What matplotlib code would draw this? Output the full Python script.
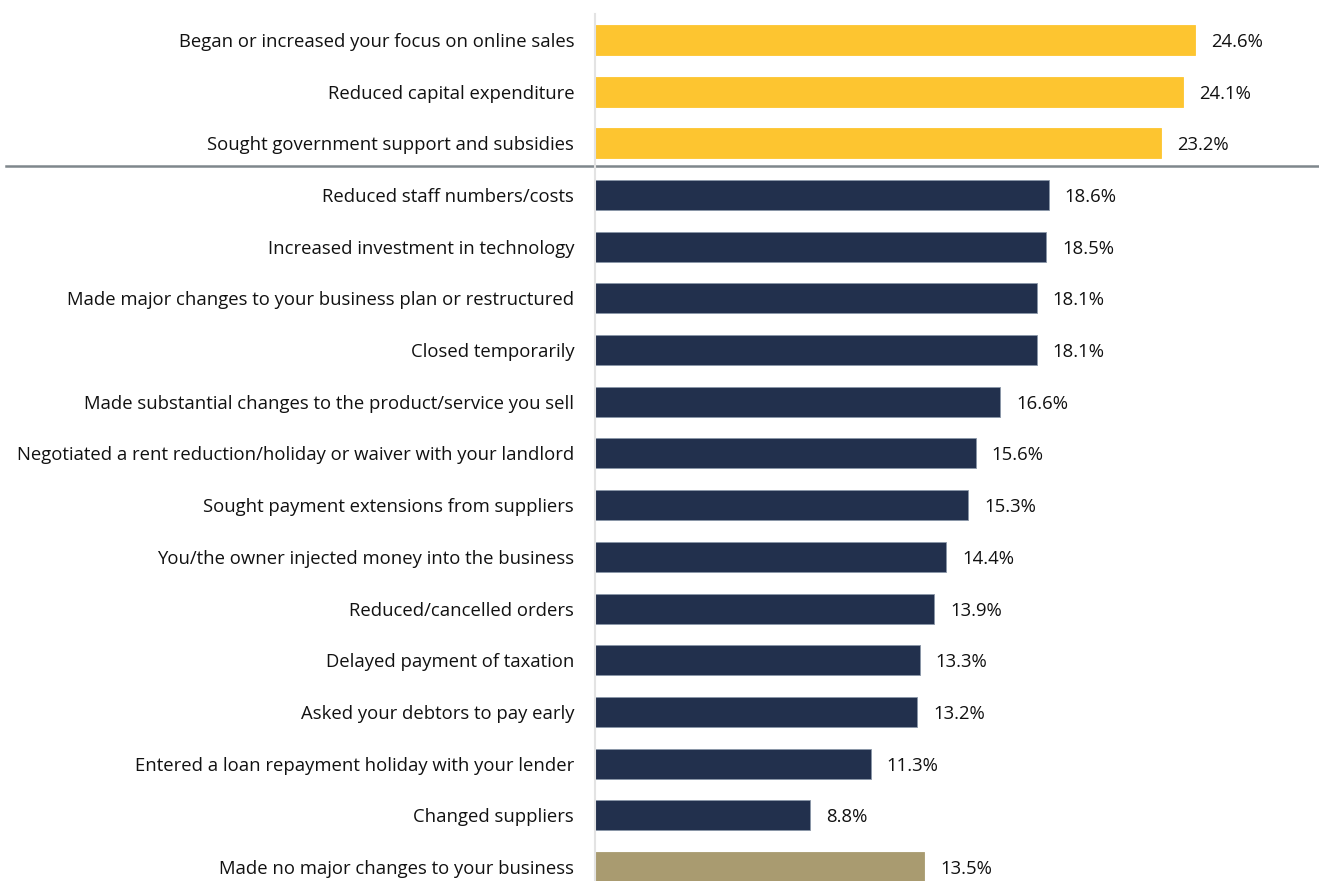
import matplotlib
matplotlib.use("Agg")
import matplotlib.pyplot as plt
from matplotlib.transforms import blended_transform_factory

categories = [
    "Began or increased your focus on online sales",
    "Reduced capital expenditure",
    "Sought government support and subsidies",
    "Reduced staff numbers/costs",
    "Increased investment in technology",
    "Made major changes to your business plan or restructured",
    "Closed temporarily",
    "Made substantial changes to the product/service you sell",
    "Negotiated a rent reduction/holiday or waiver with your landlord",
    "Sought payment extensions from suppliers",
    "You/the owner injected money into the business",
    "Reduced/cancelled orders",
    "Delayed payment of taxation",
    "Asked your debtors to pay early",
    "Entered a loan repayment holiday with your lender",
    "Changed suppliers",
    "Made no major changes to your business",
]
values = [24.6, 24.1, 23.2, 18.6, 18.5, 18.1, 18.1, 16.6, 15.6, 15.3,
          14.4, 13.9, 13.3, 13.2, 11.3, 8.8, 13.5]
groups = ["top"] * 3 + ["other"] * 13 + ["none"]

palette = {"top": "#FDC530", "other": "#22304D", "none": "#A99B70"}
edge = {"top": "#FDC530", "other": "#8A96A8", "none": "#A99B70"}

plt.rcParams["font.family"] = ["Open Sans", "DejaVu Sans"]

W, H = 1319, 881
fig = plt.figure(figsize=(W / 100, H / 100), dpi=100)
left_px, top_px = 595, 14
ax = fig.add_axes([left_px / W, 0, 1 - left_px / W, 1 - top_px / H])

ypos = list(range(len(categories)))
colors = [palette[g] for g in groups]
edges = [edge[g] for g in groups]
ax.barh(ypos, values, height=0.58, color=colors, edgecolor=edges, linewidth=0.6)

ax.set_xlim(0, (W - left_px) / 24.4)
ax.set_ylim(16.27, -0.5)

for y, v in zip(ypos, values):
    ax.annotate(f"{v:.1f}%", xy=(v, y), xytext=(16, -2), textcoords="offset pixels",
                ha="left", va="center", fontsize=13.3, color="#111111")

ax.set_yticks(ypos)
ax.set_yticklabels(categories, fontsize=13.3, color="#111111")
ax.tick_params(axis="y", length=0, pad=15)
ax.set_xticks([])

for s in ["top", "right", "bottom"]:
    ax.spines[s].set_visible(False)
ax.spines["left"].set_color("#E3E3E3")
ax.spines["left"].set_linewidth(1.5)

# divider between the leading group and the rest
tr = blended_transform_factory(fig.transFigure, ax.transData)
ax.plot([6 / W, 1.0], [2.44, 2.44], transform=tr, color="#7F878C",
        linewidth=1.8, clip_on=False)

fig.savefig("out.png", dpi=100)
